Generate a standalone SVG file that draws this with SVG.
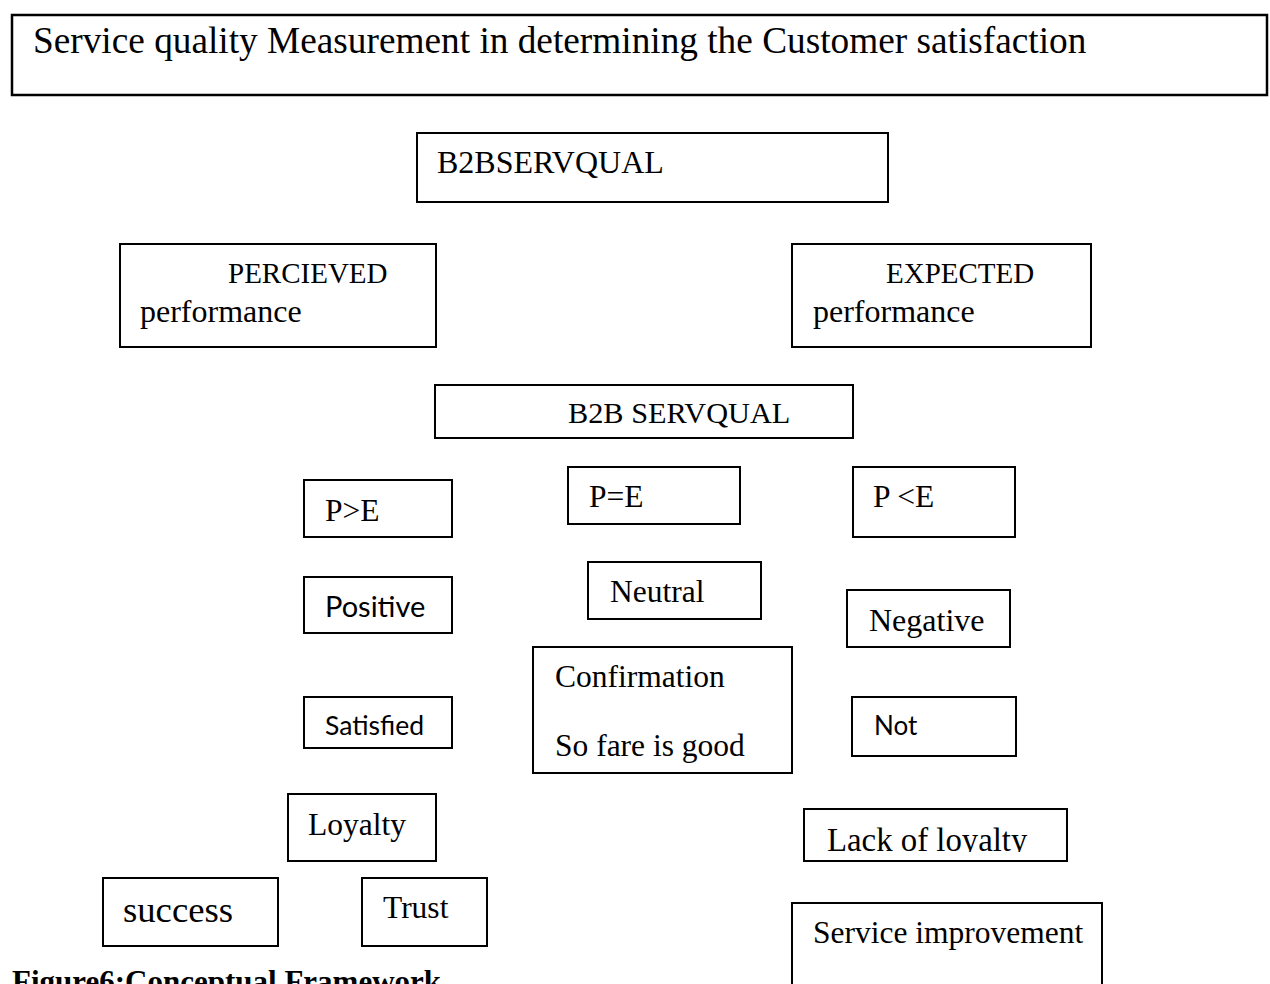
<svg xmlns="http://www.w3.org/2000/svg" width="1270" height="984" viewBox="0 0 1270 984">
  <style>
    .box { fill: #ffffff; stroke: #000000; stroke-width: 2; }
    .serif { font-family: "Liberation Serif", "Times New Roman", serif; fill: #000000; font-size: 31.5px; }
    .sans { font-family: Lato, "Open Sans", sans-serif; fill: #000000; font-size: 29px; }
    .caption { font-family: "Liberation Serif", "Times New Roman", serif; font-weight: bold; font-size: 31px; fill: #000000; }
  </style>
  <defs>
    <clipPath id="clip-lack">
      <rect x="804" y="809" width="264" height="43"/>
    </clipPath>
  </defs>
  <rect width="1270" height="984" fill="#ffffff"/>

  <g id="title">
    <rect class="box" x="12" y="15" width="1255" height="80" style="stroke-width:2.5"/>
    <text class="serif" x="33" y="53" style="font-size:37.3px">Service quality Measurement in determining the Customer satisfaction</text>
  </g>

  <g id="b2bservqual-top">
    <rect class="box" x="417" y="133" width="471" height="69"/>
    <text class="serif" x="437" y="173" style="font-size:32px">B2BSERVQUAL</text>
  </g>

  <g id="perceived">
    <rect class="box" x="120" y="244" width="316" height="103"/>
    <text class="serif" x="228" y="283" style="font-size:29px">PERCIEVED</text>
    <text class="serif" x="140" y="322" style="font-size:32px">performance</text>
  </g>

  <g id="expected">
    <rect class="box" x="792" y="244" width="299" height="103"/>
    <text class="serif" x="886" y="283" style="font-size:29px">EXPECTED</text>
    <text class="serif" x="813" y="322" style="font-size:32px">performance</text>
  </g>

  <g id="b2bservqual-mid">
    <rect class="box" x="435" y="385" width="418" height="53"/>
    <text class="serif" x="568" y="423" style="font-size:30.3px">B2B SERVQUAL</text>
  </g>

  <g id="p-greater-e">
    <rect class="box" x="304" y="480" width="148" height="57"/>
    <text class="serif" x="325" y="521">P&gt;E</text>
  </g>

  <g id="p-equal-e">
    <rect class="box" x="568" y="467" width="172" height="57"/>
    <text class="serif" x="589" y="507">P=E</text>
  </g>

  <g id="p-less-e">
    <rect class="box" x="853" y="467" width="162" height="70"/>
    <text class="serif" x="873" y="507">P &lt;E</text>
  </g>

  <g id="positive">
    <rect class="box" x="304" y="577" width="148" height="56"/>
    <text class="sans" x="325" y="617" style="font-size:29px">Positive</text>
  </g>

  <g id="neutral">
    <rect class="box" x="588" y="562" width="173" height="57"/>
    <text class="serif" x="610" y="602">Neutral</text>
  </g>

  <g id="negative">
    <rect class="box" x="847" y="590" width="163" height="57"/>
    <text class="serif" x="869" y="631" style="font-size:32px">Negative</text>
  </g>

  <g id="confirmation">
    <rect class="box" x="533" y="647" width="259" height="126"/>
    <text class="serif" x="555" y="687">Confirmation</text>
    <text class="serif" x="555" y="756">So fare is good</text>
  </g>

  <g id="satisfied">
    <rect class="box" x="304" y="697" width="148" height="51"/>
    <text class="sans" x="325" y="735" style="font-size:26.5px">Satisfied</text>
  </g>

  <g id="not">
    <rect class="box" x="852" y="697" width="164" height="59"/>
    <text class="sans" x="874" y="735" style="font-size:26px">Not</text>
  </g>

  <g id="loyalty">
    <rect class="box" x="288" y="794" width="148" height="67"/>
    <text class="serif" x="308" y="835">Loyalty</text>
  </g>

  <g id="lack-of-loyalty">
    <rect class="box" x="804" y="809" width="263" height="52"/>
    <text class="serif" x="827" y="851" style="font-size:32.8px" clip-path="url(#clip-lack)">Lack of loyalty</text>
  </g>

  <g id="success">
    <rect class="box" x="103" y="878" width="175" height="68"/>
    <text class="serif" x="123" y="922" style="font-size:36.7px">success</text>
  </g>

  <g id="trust">
    <rect class="box" x="362" y="878" width="125" height="68"/>
    <text class="serif" x="383" y="918">Trust</text>
  </g>

  <g id="service-improvement">
    <rect class="box" x="792" y="903" width="310" height="110"/>
    <text class="serif" x="813" y="943">Service improvement</text>
  </g>

  <!-- the framework has no connector lines -->
  <g id="connectors"/>

  <text class="caption" x="12" y="992">Figure6:Conceptual  Framework</text>
</svg>
